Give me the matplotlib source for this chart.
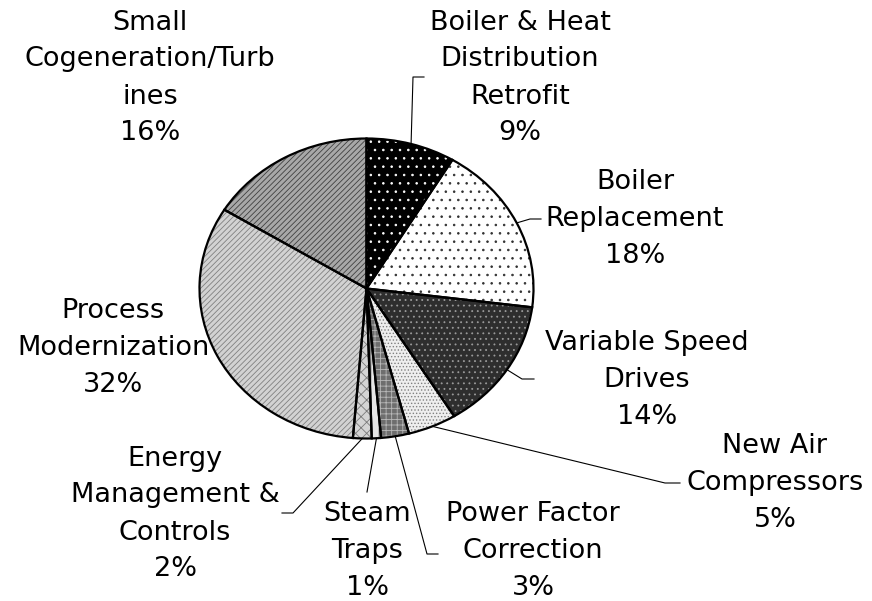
import numpy as np
import matplotlib
matplotlib.use('Agg')
import matplotlib.pyplot as plt

plt.rcParams['font.family'] = ['DejaVu Sans']
plt.rcParams['hatch.linewidth'] = 0.6

# data, clockwise from 12 o'clock
names = ['Boiler & Heat\nDistribution\nRetrofit', 'Boiler\nReplacement',
         'Variable Speed\nDrives', 'New Air\nCompressors', 'Power Factor\nCorrection',
         'Steam\nTraps', 'Energy\nManagement &\nControls', 'Process\nModernization',
         'Small\nCogeneration/Turb\nines']
values = [8.6, 18.4, 14.2, 4.7, 2.7, 0.9, 1.8, 32.5, 16.2]
pcts = ['9%', '18%', '14%', '5%', '3%', '1%', '2%', '32%', '16%']

# fill patterns (excel-like)
faces = ['black', 'white', '#2e2e2e', '#eeeeee', '#6e6e6e', '#e6e6e6', '#d4d4d4', '#d2d2d2', '#a8a8a8']
hatches = ['..', '..', '...', '.....', '+++', '||', 'xxx', '//////', '//////']
hcolors = ['white', '#303030', '#9a9a9a', '#808080', '#b8b8b8', '#404040', '#7a7a7a', '#808080', '#404040']

# layout in pixels (pie is stretched into an ellipse)
cx, cy, rx, ry = 366.5, 288.5, 167, 150
W, H = 872, 601
text_pos = [(520, 78), (635, 219), (647, 380), (775, 483), (533, 551),
            (367, 551), (175, 514), (113, 348), (150, 78)]
elbows = [[(413, 77), (424, 77)], [(530, 219), (541, 219)], [(522, 379), (534, 379)],
          [(665, 483), (680, 483)], [(427, 554), (438, 554)], [(367, 492)],
          [(293, 513), (282, 513)], None, None]


def px(x, y):
    return (x - cx) / rx, (cy - y) / ry


fig = plt.figure(figsize=(8.72, 6.01), dpi=100)
ax = fig.add_axes([0, 0, 1, 1])

w1, _ = ax.pie(values, startangle=90, counterclock=False, colors=faces,
               wedgeprops=dict(linewidth=0))
w2, _ = ax.pie(values, startangle=90, counterclock=False,
               wedgeprops=dict(fill=False, linewidth=0))
for w, h, c in zip(w2, hatches, hcolors):
    w.set_hatch(h)
    w.set_edgecolor(c)
w3, _ = ax.pie(values, startangle=90, counterclock=False,
               wedgeprops=dict(fill=False, edgecolor='black', linewidth=1.6))

ax.set_aspect('auto')
ax.set_xlim(px(0, 0)[0], px(W, 0)[0])
ax.set_ylim(px(0, H)[1], px(0, 0)[1])
ax.axis('off')

# labels and leader lines
for i, w in enumerate(w1):
    mid = np.deg2rad((w.theta1 + w.theta2) / 2)
    x0, y0 = np.cos(mid), np.sin(mid)
    if elbows[i] is not None:
        pts = [px(*p) for p in elbows[i]]
        xs = [x0] + [p[0] for p in pts]
        ys = [y0] + [p[1] for p in pts]
        ax.plot(xs, ys, color='black', lw=0.8)
    tx, ty = px(*text_pos[i])
    ax.text(tx, ty, names[i] + '\n' + pcts[i], ha='center', va='center',
            multialignment='center', fontsize=19.5, linespacing=1.55, color='black')

fig.savefig('out.png', dpi=100)
